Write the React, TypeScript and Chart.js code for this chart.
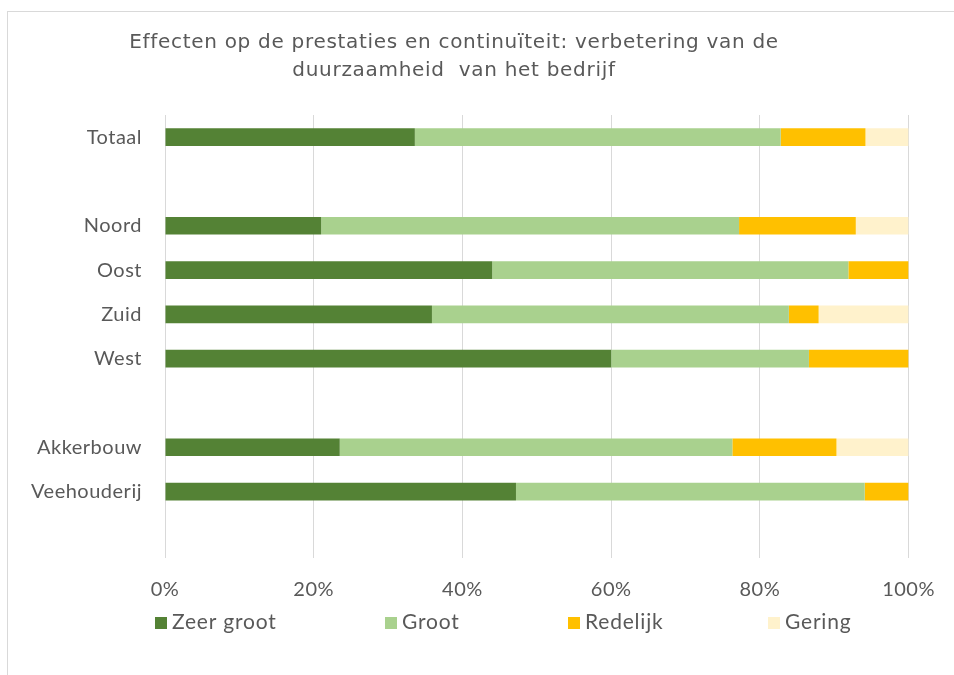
import React, { useEffect, useRef } from "react";
import { Chart, registerables } from "chart.js";

Chart.register(...registerables);

const categories = ["Totaal", "", "Noord", "Oost", "Zuid", "West", "", "Akkerbouw", "Veehouderij", ""];
const zeerGroot = [33.6, null, 21.0, 44.0, 35.9, 60.0, null, 23.5, 47.2, null];
const groot = [49.2, null, 56.2, 47.9, 48.0, 26.6, null, 52.8, 46.9, null];
const redelijk = [11.4, null, 15.7, 8.1, 4.0, 13.4, null, 14.0, 5.9, null];
const gering = [5.8, null, 7.1, 0, 12.1, 0, null, 9.7, 0, null];
const seriesNames = ["Zeer groot", "Groot", "Redelijk", "Gering"];
const seriesColors = ["#548235", "#A9D18E", "#FFC000", "#FFF2CC"];
const titleLines = ["Effecten op de prestaties en continuïteit: verbetering van de", "duurzaamheid  van het bedrijf"];

const TEXT = "#595959";
const FONT = "Lato";

export default function App() {
  const ref = useRef<HTMLCanvasElement | null>(null);
  useEffect(() => {
    if (!ref.current) return;
    const overlay = {
      id: "overlay",
      beforeDraw(chart: any) {
        chart.ctx.letterSpacing = "0.5px";
      },
      afterDraw(chart: any) {
        const ctx = chart.ctx;
        ctx.save();
        // title
        ctx.fillStyle = TEXT;
        ctx.letterSpacing = "0.7px";
        ctx.font = "20px 'DejaVu Sans'";
        ctx.textAlign = "center";
        ctx.textBaseline = "middle";
        const cx = 454;
        ctx.fillText(titleLines[0], cx, 43);
        ctx.fillText(titleLines[1], cx, 71);
        // legend
        const xs = [155, 385, 568, 768];
        ctx.textAlign = "left";
        ctx.letterSpacing = "0.8px";
        ctx.font = `21px ${FONT}`;
        chart.data.datasets.forEach((ds: any, i: number) => {
          ctx.fillStyle = ds.backgroundColor;
          ctx.fillRect(xs[i], 617, 12, 12);
          ctx.fillStyle = TEXT;
          ctx.fillText(ds.label, xs[i] + 17, 622);
        });
        ctx.restore();
      },
    };
    const data = [zeerGroot, groot, redelijk, gering];
    const chart = new Chart(ref.current, {
      type: "bar",
      data: {
        labels: categories,
        datasets: seriesNames.map((n, i) => ({
          label: n,
          data: data[i],
          backgroundColor: seriesColors[i],
          borderWidth: 0,
          categoryPercentage: 1,
          barPercentage: 0.4,
        })),
      },
      options: {
        indexAxis: "y",
        animation: false,
        responsive: false,
        maintainAspectRatio: false,
        layout: { padding: { top: 115, right: 45, left: 0, bottom: 0 } },
        plugins: {
          legend: { display: false },
          title: { display: false },
          tooltip: { enabled: false },
        },
        scales: {
          x: {
            stacked: true,
            min: 0,
            max: 100,
            grid: { color: "#D9D9D9", drawTicks: false, lineWidth: 1 },
            border: { display: false },
            ticks: {
              stepSize: 20,
              padding: 20,
              color: TEXT,
              font: { family: FONT, size: 20 },
              callback: (v: any) => v + "%",
            },
            afterFit: (s: any) => {
              s.height = 117;
            },
          },
          y: {
            stacked: true,
            grid: { display: false },
            border: { display: false },
            ticks: {
              padding: 15,
              color: TEXT,
              font: { family: FONT, size: 20 },
            },
            afterFit: (s: any) => {
              s.width = 165;
            },
          },
        },
      },
      plugins: [overlay],
    });
    return () => chart.destroy();
  }, []);
  return (
    <div style={{ position: "fixed", left: 0, top: 0, width: 954, height: 675, overflow: "hidden", background: "#fff" }}>
      <div style={{ position: "absolute", left: 7, top: 11, width: 1000, height: 700, border: "1px solid #D9D9D9", boxSizing: "border-box" }} />
      <canvas ref={ref} width={954} height={675} style={{ position: "absolute", left: 0, top: 0 }} />
    </div>
  );
}
